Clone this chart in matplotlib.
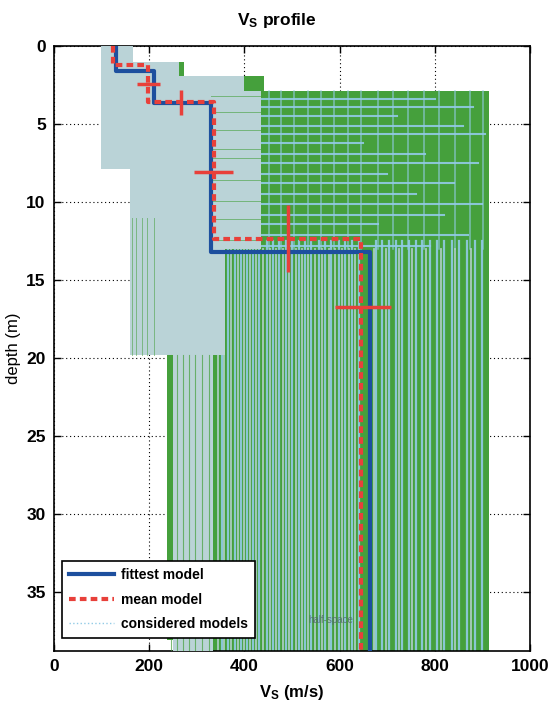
import numpy as np
import matplotlib
matplotlib.use("Agg")
import matplotlib.pyplot as plt
from matplotlib.lines import Line2D

plt.rcParams["font.family"] = ["Liberation Sans", "DejaVu Sans"]
plt.rcParams["mathtext.fontset"] = "custom"
plt.rcParams["mathtext.rm"] = "Liberation Sans:bold"
plt.rcParams["mathtext.it"] = "Liberation Sans:bold"

# fittest / mean model (layer velocities and interface depths)
fit_v = [130, 211, 330, 665]
fit_z = [1.6, 3.65, 13.2]
mean_v = [123, 197, 337, 646]
mean_z = [1.2, 3.6, 12.35]

# velocity error bars (depth, vmin, vmax)
verr_z = [2.4, 8.05, 16.7]
verr_lo = [174, 295, 590]
verr_hi = [222, 377, 709]
# depth error bars at interfaces (v, zmin, zmax)
zerr_v = [266, 492]
zerr_lo = [2.8, 10.2]
zerr_hi = [4.4, 14.5]

# envelope of considered models (step bounds)
env_z = [0, 1.0, 1.9, 2.9, 7.9, 19.8, 38.1, 38.8]
env_left = [98, 98, 98, 98, 159, 238, 333]
env_right = [165, 274, 441, 915, 915, 915, 915]
# core of best models (light)
core_z = [0, 1.0, 1.9, 2.9, 7.9, 13.0, 19.8, 38.8]
core_left = [98, 98, 98, 98, 159, 159, 250]
core_right = [165, 262, 400, 435, 435, 360, 335]

# streaks of the considered models
vlight_upper = [452, 478, 505, 533, 561, 588, 617, 646, 680, 712, 744, 777, 808, 842, 874, 902]
vlight_lower = [352, 365, 380, 392, 405, 418, 430, 447, 460, 472, 488, 500, 515, 528, 540,
                556, 570, 583, 598, 612, 626, 640, 676, 690, 703, 718, 731, 745, 760, 774,
                790, 805, 820, 836, 850, 868, 884, 900]
vpale_lower = [345, 358, 372, 386, 399, 412, 424, 440, 454, 466, 481, 494, 508, 521, 534,
               548, 563, 577, 591, 605, 619, 633, 672, 697, 724, 752, 781, 813, 843, 876]
vgreen_core = [245, 258, 270, 283, 296, 312, 326]
vgreen_mid = [163, 172, 184, 196, 210]
hlight_z = [3.4, 3.9, 4.5, 5.1, 5.6, 6.2, 6.9, 7.5, 8.2, 8.8, 9.5, 10.1, 10.8, 11.4, 12.1, 12.8]
hlight_end = [800, 880, 720, 860, 905, 650, 780, 890, 700, 840, 760, 900, 820, 680, 870, 790]
hgreen_z = [3.2, 4.2, 5.4, 6.6, 7.2, 8.6, 9.9, 11.1, 12.4]

GREEN = "#45a03c"
LIGHT = "#bad3d7"
STREAK = "#92cbe6"


def steps(z, v):
    zz, vv = [], []
    for i, val in enumerate(v):
        zz += [z[i], z[i + 1]]
        vv += [val, val]
    return np.array(zz), np.array(vv)


fig = plt.figure(figsize=(5.54, 7.09), dpi=100)
ax = fig.add_axes([0.0975, 0.0818, 0.859, 0.853])

# outer envelope
zz, vl = steps(env_z, env_left)
_, vr = steps(env_z, env_right)
ax.fill_betweenx(zz, vl, vr, color=GREEN, lw=0, zorder=1)

# streaks in the green part
for v in vlight_upper:
    ax.plot([v, v], [2.9, 13], color=STREAK, lw=1.1, alpha=0.7, zorder=2)
for v in vlight_lower:
    ax.plot([v, v], [12.5, 38.8], color=STREAK, lw=1.6, alpha=0.9, zorder=2)
for v in vpale_lower:
    ax.plot([v, v], [13.0, 38.8], color=LIGHT, lw=1.3, alpha=0.85, zorder=2)
for z, e in zip(hlight_z, hlight_end):
    ax.plot([430, e], [z, z], color=STREAK, lw=1.5, alpha=0.9, zorder=2)

# core of best models
zz, cl = steps(core_z, core_left)
_, cr = steps(core_z, core_right)
ax.fill_betweenx(zz, cl, cr, color=LIGHT, lw=0, zorder=3)
for v in vgreen_core:
    ax.plot([v, v], [19.8, 38.8], color=GREEN, lw=0.8, alpha=0.7, zorder=4)
for v in vgreen_mid:
    ax.plot([v, v], [11.0, 19.8], color=GREEN, lw=0.7, alpha=0.55, zorder=4)
for z in hgreen_z:
    ax.plot([330, 435], [z, z], color=GREEN, lw=0.7, alpha=0.6, zorder=4)

# fittest and mean model
zf, vf = steps([0] + fit_z + [38.8], fit_v)
zm, vm = steps([0] + mean_z + [38.8], mean_v)
ax.plot(vf, zf, color="#1d4f9e", lw=3, zorder=6)
ax.plot(vm, zm, color="#e8403a", lw=3, ls=(0, (1.6, 1.0)), zorder=7)
ax.hlines(verr_z, verr_lo, verr_hi, color="#e8403a", lw=2.5, zorder=8)
ax.vlines(zerr_v, zerr_lo, zerr_hi, color="#e8403a", lw=2.5, zorder=8)

ax.text(535, 36.8, "half-space", fontsize=7, color="#506070", alpha=0.8, zorder=5,
        va="center")

ax.set_xlim(0, 1000)
ax.set_ylim(38.8, 0)
ax.set_xticks([0, 200, 400, 600, 800, 1000])
ax.set_yticks([0, 5, 10, 15, 20, 25, 30, 35])
ax.grid(True, ls=(0, (1, 2.5)), color="black", lw=0.8)
ax.set_axisbelow(True)
ax.tick_params(direction="in", top=True, right=True, length=5, width=1,
               labelsize=12.5, pad=6)
for lab in ax.get_xticklabels() + ax.get_yticklabels():
    lab.set_fontweight("bold")
for s in ax.spines.values():
    s.set_linewidth(1.2)

ax.set_title(r"V$_\mathrm{S}$ profile", fontsize=12.5, fontweight="bold", pad=15,
             x=0.468)
ax.set_xlabel(r"V$_\mathrm{S}$ (m/s)", fontsize=12, fontweight="bold", labelpad=6)
ax.set_ylabel("depth (m)", fontsize=12, labelpad=4)

handles = [
    Line2D([], [], color="#1d4f9e", lw=3),
    Line2D([], [], color="#e8403a", lw=3, ls=(0, (1.6, 1.0))),
    Line2D([], [], color=STREAK, lw=1, ls=":"),
]
leg = ax.legend(handles, ["fittest model", "mean model", "considered models"],
                loc="lower left", bbox_to_anchor=(0.003, 0.01), fancybox=False,
                framealpha=1, edgecolor="black", handlelength=3.2,
                borderpad=0.5, labelspacing=0.75, handletextpad=0.5,
                prop={"size": 10, "weight": "bold"})
leg.get_frame().set_linewidth(1.2)
leg.set_zorder(10)

fig.savefig("out.png", dpi=100)
